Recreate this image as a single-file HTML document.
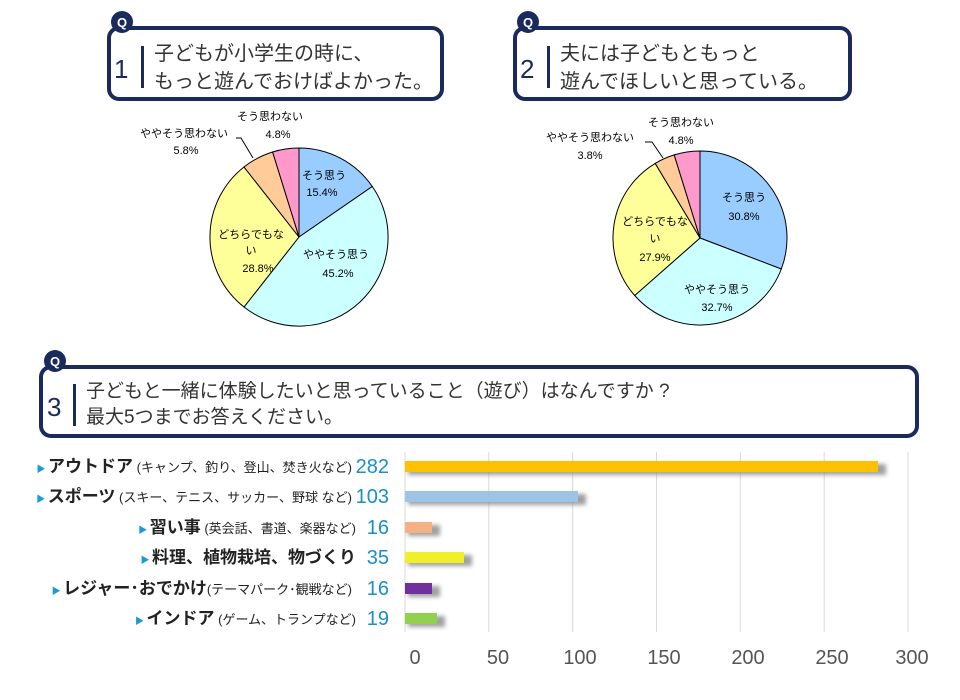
<!DOCTYPE html>
<html><head><meta charset="utf-8"><style>
html,body{margin:0;padding:0;background:#fff}
svg{display:block;font-family:"Liberation Sans","Noto Sans CJK JP",sans-serif}
</style></head><body>
<svg width="960" height="700" viewBox="0 0 960 700" xmlns="http://www.w3.org/2000/svg">
<defs><filter id="sh" x="-20%" y="-50%" width="140%" height="250%"><feGaussianBlur stdDeviation="2"/></filter></defs>
<rect x="109" y="28" width="333" height="71" rx="10" fill="#fff" stroke="#1b2a5c" stroke-width="4"/>
<circle cx="122" cy="22" r="11" fill="#1b2a5c"/><text x="122" y="27" font-size="13" font-weight="bold" fill="#fff" text-anchor="middle">Q</text>
<text x="114" y="78" font-size="26" fill="#1b2a5c">1</text>
<rect x="141" y="46" width="3" height="42" fill="#1b2a5c"/>
<text x="154" y="60" font-size="20" fill="#333">子どもが小学生の時に、</text>
<text x="154" y="88" font-size="20" fill="#333">もっと遊んでおけばよかった。</text>
<rect x="515" y="28" width="335" height="71" rx="10" fill="#fff" stroke="#1b2a5c" stroke-width="4"/>
<circle cx="528" cy="22" r="11" fill="#1b2a5c"/><text x="528" y="27" font-size="13" font-weight="bold" fill="#fff" text-anchor="middle">Q</text>
<text x="520" y="78" font-size="26" fill="#1b2a5c">2</text>
<rect x="547" y="46" width="3" height="42" fill="#1b2a5c"/>
<text x="560" y="60" font-size="20" fill="#333">夫には子どもともっと</text>
<text x="560" y="88" font-size="20" fill="#333">遊んでほしいと思っている。</text>
<rect x="41" y="367" width="876" height="69" rx="10" fill="#fff" stroke="#1b2a5c" stroke-width="4"/>
<circle cx="55" cy="361" r="11" fill="#1b2a5c"/><text x="55" y="366" font-size="13" font-weight="bold" fill="#fff" text-anchor="middle">Q</text>
<text x="47" y="416" font-size="26" fill="#1b2a5c">3</text>
<rect x="73" y="384" width="3" height="42" fill="#1b2a5c"/>
<text x="86" y="397" font-size="19" fill="#333">子どもと一緒に体験したいと思っていること（遊び）はなんですか ?</text>
<text x="86" y="423" font-size="19" fill="#333">最大5つまでお答えください。</text>
<g stroke="#000" stroke-width="1">
<path d="M299,237 L299,148 A89,89 0 0 1 372.3,186.5 Z" fill="#99ccff"/>
<path d="M299,237 L372.3,186.5 A89,89 0 0 1 244,307 Z" fill="#ccffff"/>
<path d="M299,237 L244,307 A89,89 0 0 1 244,167 Z" fill="#ffff99"/>
<path d="M299,237 L244,167 A89,89 0 0 1 272.6,152 Z" fill="#ffcc99"/>
<path d="M299,237 L272.6,152 A89,89 0 0 1 299,148 Z" fill="#ff99cc"/>
<path d="M253,158 L241,138 L236,138" fill="none"/>
</g>
<g font-size="11" fill="#000" text-anchor="middle">
<text x="324" y="179">そう思う</text><text x="322" y="196">15.4%</text>
<text x="336" y="258">ややそう思う</text><text x="338" y="277">45.2%</text>
<text x="251" y="238">どちらでもな</text><text x="251" y="254">い</text><text x="258" y="272">28.8%</text>
<text x="184" y="137">ややそう思わない</text><text x="186" y="154">5.8%</text>
<text x="270" y="120">そう思わない</text><text x="278" y="138">4.8%</text>
</g>
<g stroke="#000" stroke-width="1">
<path d="M700,238 L700,151 A87,87 0 0 1 781.3,269 Z" fill="#99ccff"/>
<path d="M700,238 L781.3,269 A87,87 0 0 1 634.7,295.5 Z" fill="#ccffff"/>
<path d="M700,238 L634.7,295.5 A87,87 0 0 1 655.2,163.4 Z" fill="#ffff99"/>
<path d="M700,238 L655.2,163.4 A87,87 0 0 1 674.2,154.9 Z" fill="#ffcc99"/>
<path d="M700,238 L674.2,154.9 A87,87 0 0 1 700,151 Z" fill="#ff99cc"/>
<path d="M663,158 L652,142 L645,142" fill="none"/>
</g>
<g font-size="11" fill="#000" text-anchor="middle">
<text x="744" y="201">そう思う</text><text x="744" y="220">30.8%</text>
<text x="717" y="293">ややそう思う</text><text x="717" y="311">32.7%</text>
<text x="655" y="225">どちらでもな</text><text x="655" y="242">い</text><text x="655" y="261">27.9%</text>
<text x="590" y="141">ややそう思わない</text><text x="590" y="159">3.8%</text>
<text x="681" y="126">そう思わない</text><text x="681" y="144">4.8%</text>
</g>
<g stroke="#d9d9d9" stroke-width="1">
<line x1="572.7" y1="452" x2="572.7" y2="632"/><line x1="488.8" y1="452" x2="488.8" y2="632"/>
<line x1="656.5" y1="452" x2="656.5" y2="632"/><line x1="740.3" y1="452" x2="740.3" y2="632"/>
<line x1="824.2" y1="452" x2="824.2" y2="632"/><line x1="908" y1="452" x2="908" y2="632"/>
<line x1="405" y1="452" x2="405" y2="632"/>
</g>
<g filter="url(#sh)" fill="#888" opacity="0.8">
<rect x="408" y="464" width="478" height="11"/><rect x="408" y="494" width="178" height="11"/>
<rect x="408" y="525" width="32" height="11"/><rect x="408" y="555" width="64" height="11"/>
<rect x="408" y="586" width="32" height="11"/><rect x="408" y="616" width="37" height="11"/>
</g>
<rect x="405" y="461" width="473" height="11" fill="#ffc000"/>
<rect x="405" y="491" width="173" height="11" fill="#9dc3e6"/>
<rect x="405" y="522" width="27" height="11" fill="#f4b183"/>
<rect x="405" y="552" width="59" height="11" fill="#f0f02a"/>
<rect x="405" y="583" width="27" height="11" fill="#7030a0"/>
<rect x="405" y="613" width="32" height="11" fill="#92d050"/>
<g font-size="20" fill="#555" text-anchor="middle">
<text x="415" y="664">0</text><text x="498" y="664">50</text><text x="580" y="664">100</text>
<text x="664" y="664">150</text><text x="748" y="664">200</text><text x="832" y="664">250</text><text x="912" y="664">300</text>
</g>
<g text-anchor="end" fill="#222">
<text x="352" y="472"><tspan font-size="9" fill="#1a9ad6">▶ </tspan><tspan font-size="17" font-weight="bold">アウトドア</tspan><tspan font-size="13"> (キャンプ、釣り、登山、焚き火など)</tspan></text>
<text x="352" y="502"><tspan font-size="9" fill="#1a9ad6">▶ </tspan><tspan font-size="17" font-weight="bold">スポーツ</tspan><tspan font-size="13"> (スキー、テニス、サッカー、野球 など)</tspan></text>
<text x="356" y="533"><tspan font-size="9" fill="#1a9ad6">▶ </tspan><tspan font-size="17" font-weight="bold">習い事</tspan><tspan font-size="13"> (英会話、書道、楽器など)</tspan></text>
<text x="356" y="563"><tspan font-size="9" fill="#1a9ad6">▶ </tspan><tspan font-size="17" font-weight="bold">料理、植物栽培、物づくり</tspan></text>
<text x="352" y="594"><tspan font-size="9" fill="#1a9ad6">▶ </tspan><tspan font-size="17" font-weight="bold">レジャー･おでかけ</tspan><tspan font-size="13">(テーマパーク･観戦など)</tspan></text>
<text x="356" y="624"><tspan font-size="9" fill="#1a9ad6">▶ </tspan><tspan font-size="17" font-weight="bold">インドア</tspan><tspan font-size="13"> (ゲーム、トランプなど)</tspan></text>
</g>
<g text-anchor="end" font-size="20" fill="#1a8fc8">
<text x="389" y="473">282</text><text x="389" y="503">103</text><text x="389" y="534">16</text>
<text x="389" y="564">35</text><text x="389" y="595">16</text><text x="389" y="625">19</text>
</g>
</svg>
</body></html>
